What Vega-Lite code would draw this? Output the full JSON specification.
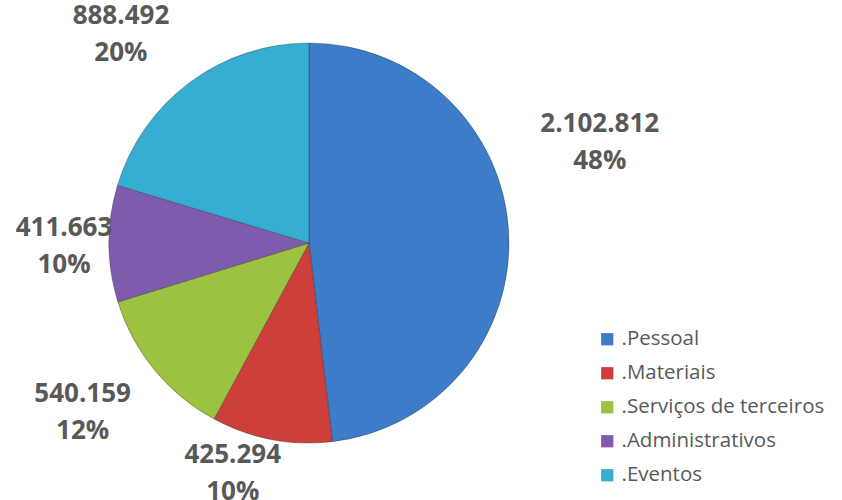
{
  "$schema": "https://vega.github.io/schema/vega-lite/v6.json",
  "width": 618,
  "height": 486,
  "autosize": {"type": "none"},
  "padding": {"left": 0, "top": 0, "right": 224, "bottom": 14},
  "background": "white",
  "config": {"view": {"stroke": null}},
  "data": {
    "values": [
      {"categoria": ".Pessoal", "valor": 2102812, "rotulo": "2.102.812", "pct": "48%", "ordem": 1},
      {"categoria": ".Materiais", "valor": 425294, "rotulo": "425.294", "pct": "10%", "ordem": 2},
      {"categoria": ".Serviços de terceiros", "valor": 540159, "rotulo": "540.159", "pct": "12%", "ordem": 3},
      {"categoria": ".Administrativos", "valor": 411663, "rotulo": "411.663", "pct": "10%", "ordem": 4},
      {"categoria": ".Eventos", "valor": 888492, "rotulo": "888.492", "pct": "20%", "ordem": 5}
    ]
  },
  "transform": [{"calculate": "datum.rotulo + '\\n' + datum.pct", "as": "texto"}],
  "encoding": {
    "theta": {"field": "valor", "type": "quantitative", "stack": true},
    "order": {"field": "ordem", "type": "quantitative"}
  },
  "layer": [
    {
      "mark": {"type": "arc", "outerRadius": 200, "stroke": "#2b2b2b", "strokeOpacity": 0.35, "strokeWidth": 1},
      "encoding": {
        "color": {
          "field": "categoria",
          "type": "nominal",
          "scale": {
            "domain": [".Pessoal", ".Materiais", ".Serviços de terceiros", ".Administrativos", ".Eventos"],
            "range": ["#3c7cc9", "#cc3f3b", "#9cc340", "#7f5bae", "#36aed3"]
          },
          "legend": {
            "title": null,
            "orient": "none",
            "legendX": 597,
            "legendY": 329,
            "symbolType": "square",
            "symbolSize": 150,
            "symbolStrokeWidth": 0,
            "labelFont": "Open Sans",
            "labelFontSize": 20.5,
            "labelColor": "#595959",
            "labelOffset": 4,
            "rowPadding": 13,
            "labelLimit": 300
          }
        }
      }
    },
    {
      "mark": {"type": "text", "radius": 308, "thetaOffset": -0.278, "dy": -17, "font": "Open Sans", "fontSize": 26, "fontWeight": "bold", "color": "#595959", "lineBreak": "\n", "lineHeight": 37, "align": "center", "baseline": "middle"},
      "encoding": {"text": {"condition": {"test": "datum.categoria == '.Pessoal'", "field": "texto"}, "value": ""}}
    },
    {
      "mark": {"type": "text", "radius": 241, "thetaOffset": 0.133, "dy": -17, "font": "Open Sans", "fontSize": 26, "fontWeight": "bold", "color": "#595959", "lineBreak": "\n", "lineHeight": 37, "align": "center", "baseline": "middle"},
      "encoding": {"text": {"condition": {"test": "datum.categoria == '.Materiais'", "field": "texto"}, "value": ""}}
    },
    {
      "mark": {"type": "text", "radius": 282, "thetaOffset": 0.049, "dy": -17, "font": "Open Sans", "fontSize": 26, "fontWeight": "bold", "color": "#595959", "lineBreak": "\n", "lineHeight": 37, "align": "center", "baseline": "middle"},
      "encoding": {"text": {"condition": {"test": "datum.categoria == '.Serviços de terceiros'", "field": "texto"}, "value": ""}}
    },
    {
      "mark": {"type": "text", "radius": 245, "thetaOffset": -0.005, "dy": -17, "font": "Open Sans", "fontSize": 26, "fontWeight": "bold", "color": "#595959", "lineBreak": "\n", "lineHeight": 37, "align": "center", "baseline": "middle"},
      "encoding": {"text": {"condition": {"test": "datum.categoria == '.Administrativos'", "field": "texto"}, "value": ""}}
    },
    {
      "mark": {"type": "text", "radius": 282, "thetaOffset": -0.091, "dy": -17, "font": "Open Sans", "fontSize": 26, "fontWeight": "bold", "color": "#595959", "lineBreak": "\n", "lineHeight": 37, "align": "center", "baseline": "middle"},
      "encoding": {"text": {"condition": {"test": "datum.categoria == '.Eventos'", "field": "texto"}, "value": ""}}
    }
  ]
}
